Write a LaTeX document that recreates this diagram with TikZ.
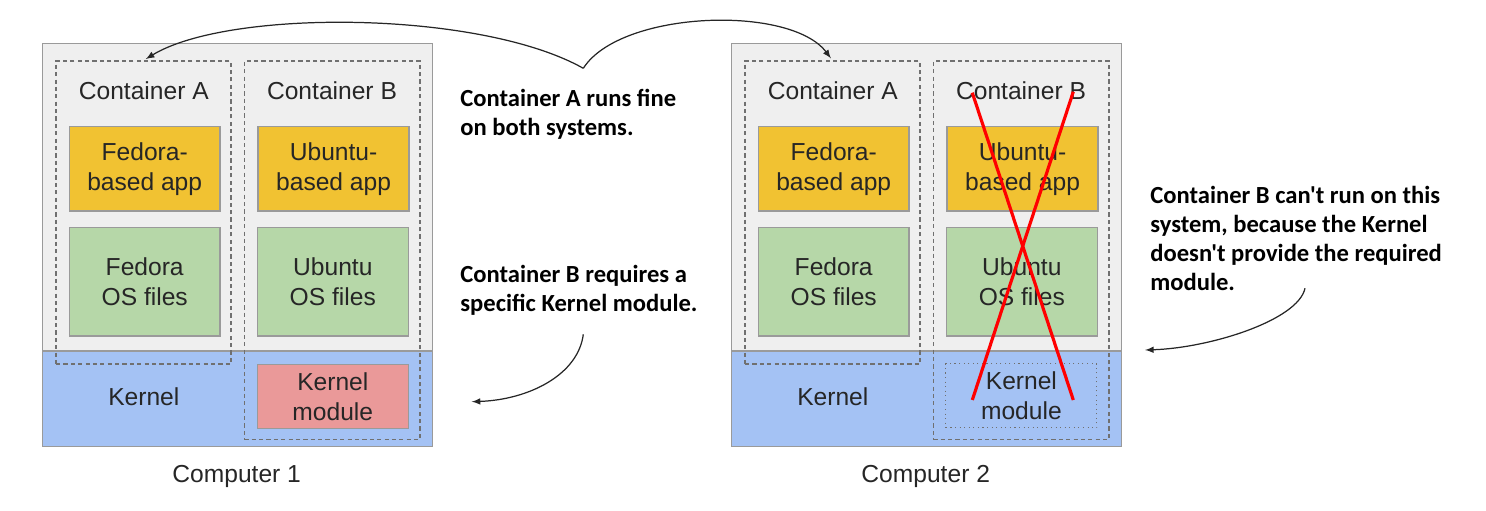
\documentclass[tikz,border=0pt]{standalone}
\usepackage{fontspec}
\setmainfont{Liberation Sans}
\newfontfamily\calloutfont{Carlito}
\usetikzlibrary{positioning}
\usetikzlibrary{arrows}
\usetikzlibrary{fit}

\definecolor{hostgray}{HTML}{EFEFEF}
\definecolor{linegray}{HTML}{9A9A9A}
\definecolor{dashgray}{HTML}{707070}
\definecolor{appyellow}{HTML}{F1C232}
\definecolor{osgreen}{HTML}{B6D7A8}
\definecolor{kernelblue}{HTML}{A4C2F4}
\definecolor{modred}{HTML}{EA9999}

\begin{document}
\begin{tikzpicture}[x=0.02cm, y=-0.02cm, >=latex,
  every node/.style={font=\fontsize{14}{17}\selectfont, align=center, text=black!85},
  layer/.style={rectangle, inner sep=0pt, draw=linegray, line width=0.8pt},
  ctr/.style={rectangle, inner sep=0pt, draw=dashgray, line width=0.6pt, dash pattern=on 2.4pt off 1.8pt},
  app/.style={layer, fill=appyellow, minimum width=3.02cm, minimum height=1.69cm},
  osfiles/.style={layer, fill=osgreen, minimum width=3.02cm, minimum height=2.17cm},
  kmod/.style={inner sep=0pt, minimum width=3.02cm, minimum height=1.28cm},
  note/.style={anchor=west, align=left, inner sep=0pt, text=black,
    font=\calloutfont\bfseries\fontsize{14}{16.5}\selectfont},
  callout/.style={->, line width=0.7pt, black!85},
  cross/.style={red, line width=1.8pt},
]
  \useasboundingbox (0,0) rectangle (1486,510);

  % both computers, second one shifted right
  \foreach \n/\dx in {1/0, 2/689} {
    \node[fit={(\dx+42.7,43.3) (\dx+432.7,351)}, inner sep=0pt, fill=hostgray] (host\n) {};
    \node[fit={(\dx+42.7,351) (\dx+432.7,446.7)}, layer, fill=kernelblue] (kernel\n) {};
    \node[fit={(\dx+42.7,43.3) (\dx+432.7,446.7)}, layer] (computer\n) {};
    \node at (\dx+143.8,396.7) (kerneltext\n) {Kernel};
    \node[ctr, fit={(\dx+56,61) (\dx+231,364)}] (ctrA\n) {};
    \node[ctr, fit={(\dx+244.3,61) (\dx+420,439.3)}] (ctrB\n) {};
    \node at (\dx+143.8,90.7) (nameA\n) {Container A};
    \node at (\dx+332,90.7) (nameB\n) {Container B};
    \node[app] at (\dx+144.7,168.9) (appA\n) {Fedora-\\based app};
    \node[app] at (\dx+333.6,168.9) (appB\n) {Ubuntu-\\based app};
    \node[osfiles] at (\dx+144.7,281.7) (osA\n) {Fedora\\OS files};
    \node[osfiles] at (\dx+332.8,281.7) (osB\n) {Ubuntu\\OS files};
    \node at (\dx+236.7,476) (label\n) {Computer \n};
  }

  % kernel module: present on computer 1, missing on computer 2
  \node[kmod, layer, fill=modred] at (332.8,396.3) (module1) {Kernel\\module};
  \node[kmod, draw=dashgray, line width=0.6pt, dotted] at (1021.4,395.8) (module2) {Kernel\\module};

  % red cross over container B
  \coordinate (xa) at (972.3,92.7);
  \coordinate (xb) at (1073.3,400);
  \coordinate (xc) at (1073.3,91.7);
  \coordinate (xd) at (972.3,400);
  \draw[cross] (xa) -- (xb);
  \draw[cross] (xc) -- (xd);

  % callout texts
  \node[note] (noteA) at (460,114.6) {Container A runs fine\\on both systems.};
  \node[note] (noteB) at (460,290) {Container B requires a\\specific Kernel module.};
  \node[note] (noteC) at (1150,238.8) {Container B can't run on this\\system, because the Kernel\\doesn't provide the required\\module.};

  % callout arrows
  \coordinate (cusp) at (583.3,68.3);
  \draw[callout, shorten >=1.5pt] (cusp) .. controls +(-103,-58) and +(85,-52) .. (ctrA1.north);
  \draw[callout, shorten >=1.5pt] (cusp) .. controls +(37,-58) and +(-42,-56) .. (ctrA2.north);

  \coordinate (needstart) at (583.3,334.3);
  \coordinate (needend) at (471.7,401.7);
  \draw[callout] (needstart) .. controls +(-5,40) and +(58,-2) .. (needend);

  \coordinate (failstart) at (1305,288.3);
  \coordinate (failend) at (1145,350);
  \draw[callout] (failstart) .. controls +(-7,32) and +(65,-2) .. (failend);
\end{tikzpicture}
\end{document}
